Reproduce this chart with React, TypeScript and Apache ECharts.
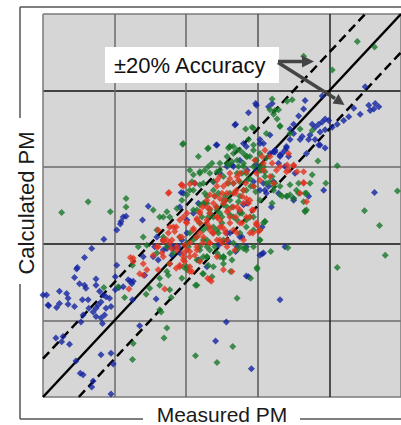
import React, { useEffect, useRef } from "react";
import * as echarts from "echarts";

// Measured (x) vs Calculated (y) PM, in grid units (5 divisions each axis)
const blueSeries: number[][] = [
[4.69,3.79],[4.64,3.83],[4.62,3.76],[4.55,3.81],[4.50,4.05],[4.57,3.74],[4.43,3.69],[4.34,3.77],[4.27,3.66],[4.20,3.61],[4.11,3.56],[4.04,3.52],[3.99,3.61],[3.94,3.63],[3.90,3.59],[3.85,3.56],[3.80,3.52],[3.76,3.56],[3.90,3.93],[3.66,3.87],[3.64,3.76],[3.57,3.67],[3.50,3.56],[3.45,3.50],[3.20,3.83],[3.15,3.79],[2.97,3.83],[2.87,3.71],[2.69,3.56],
[3.73,3.42],[3.59,3.36],[3.87,3.29],[3.94,3.49],[3.45,3.36],[3.38,3.22],[3.94,3.25],[3.80,3.36],
[3.50,3.44],[3.62,3.40],[3.71,3.36],[3.87,3.46],[3.85,3.29],[3.17,3.42],[3.08,3.31],[3.24,3.20],[3.34,3.18],[3.43,3.14],[2.80,3.31],[3.29,3.05],[3.52,2.92],[3.92,2.70],[3.71,2.62],[3.50,2.59],[3.10,2.70],[3.15,2.75],[2.97,3.03],[2.85,2.96],[4.63,2.67],[3.06,2.22],[2.78,2.09],[2.59,2.03],[2.71,1.96],[2.69,1.90],[3.06,1.87],
[2.84,1.58],[3.31,1.27],[2.56,0.98],[2.91,0.37],
[0.47,1.67],[0.44,1.56],[0.23,1.38],[0.05,1.33],[0.08,1.19],[0.19,1.17],[0.23,1.22],[0.33,1.35],[0.35,1.29],[0.35,1.21],[0.44,1.18],[0.51,1.48],[0.58,1.46],[0.60,1.42],[0.55,1.27],[0.63,1.27],[0.74,1.54],[0.74,1.46],[0.79,1.38],[0.84,1.33],[0.88,1.31],[0.93,1.29],[0.81,1.24],[0.77,1.20],[0.74,1.16],[0.70,1.11],[0.74,1.05],[0.81,1.03],[0.86,1.07],[0.88,1.16],[0.95,1.18],[0.56,1.07],[0.53,0.98],[0.83,0.96],[0.64,1.16],[0.18,0.77],[0.28,0.79],[0.37,0.69],[0.46,0.47],[0.81,0.55],[0.95,0.57],[0.98,0.43],[0.56,0.29],[0.70,0.21],[0.95,0.04],[1.06,1.43],[1.12,1.44],[1.22,1.51],[1.25,1.27],[1.35,0.93],[1.19,1.53],[1.26,1.51],[1.58,1.28],[2.41,0.73],[0.68,0.13],[0.26,0.72],[0.00,1.33],[0.07,1.20],[0.52,0.31],
[2.42,3.29],[1.47,2.49],[1.39,2.31],[1.12,2.35],[1.16,2.36],[1.09,2.29],[1.08,2.26],[1.03,2.18],[0.85,2.06],[0.68,1.94],[0.58,1.82],[0.48,1.69],[1.93,2.67],[2.12,2.79],
[2.68,3.55],[2.98,3.81],[1.03,1.72],[1.01,1.57],[1.24,1.48],[1.42,1.59],[1.54,1.83],[1.61,1.79],[1.68,1.92],[1.75,1.98],[1.82,1.94],[1.89,1.96],[1.94,2.05],[1.80,1.85],[1.56,1.96],[2.01,2.31],[2.01,2.14],[2.10,2.40],[1.91,2.48],[2.17,2.53],[1.96,2.66],[1.59,2.09],[1.40,1.83],[1.01,1.40],[2.17,1.79],[2.29,1.70],[2.45,1.98],[2.61,2.14],[2.87,1.57],[3.08,1.88],[3.19,2.48],[3.29,2.66],[3.50,2.57],
[3.31,3.14],[3.22,3.20],[3.40,3.25],[3.38,3.01],[2.98,2.96],[2.75,3.09],[2.66,3.01],[2.47,2.92],[2.38,2.81],[2.94,2.81],[3.08,2.79],[3.12,2.66],[2.85,2.53],[2.84,3.27],[3.03,3.36],
[3.17,3.18],[3.24,3.22],[3.31,3.16],[3.40,3.27],[3.03,3.31],[2.43,3.29],[2.57,3.01],[2.64,3.03],[2.75,2.42],[2.80,2.51],[3.03,2.70],[3.22,2.81],[1.82,1.96],[1.73,1.94],[1.68,2.05],[1.91,1.88],[2.57,2.14],[2.75,2.09],[2.84,1.96],[3.03,1.85],[3.68,3.18],[3.38,1.96]
];

const greenSeries: number[][] = [
[4.39,4.64],[4.63,4.57],[3.64,4.45],[4.04,4.27],[3.20,3.89],[3.24,3.74],[3.22,3.69],[3.48,3.88],[3.41,3.86],[3.27,3.63],[3.31,3.54],[2.92,3.52],[2.83,3.50],[3.76,3.48],[3.59,3.50],
[3.17,3.75],[3.29,3.75],[2.94,3.51],[3.12,3.44],[3.31,3.53],[3.45,3.44],[1.95,3.30],[2.30,3.24],[2.61,3.27],[2.71,3.22],[2.80,3.18],[2.89,3.14],[3.03,3.18],
[2.59,3.25],[2.66,3.27],[2.87,3.36],[2.94,3.29],[2.85,3.14],[2.97,3.09],[3.03,3.01],[3.10,2.94],[3.20,2.88],[3.24,2.79],[3.31,2.75],[3.34,2.62],[3.41,2.62],[3.45,2.64],[3.20,2.53],[3.57,2.66],[3.66,2.66],[3.45,2.77],[3.57,2.79],[3.73,2.79],[3.76,2.90],[3.95,2.79],[3.84,3.08],[3.64,2.55],[3.66,2.43],[4.11,3.02],[4.95,2.69],[4.49,2.43],[4.70,2.24],[4.78,1.85],[4.11,1.69],[3.42,1.95],[3.18,1.90],[3.10,2.29],[2.83,1.95],[2.99,1.69],[2.64,3.07],[2.73,3.01],[2.78,2.92],[2.85,2.83],[2.90,2.75],[2.97,2.68],[2.59,2.79],[2.55,2.62],[2.64,2.48],[2.73,2.55],[2.78,2.40],[2.50,2.35],[2.52,1.83],
[2.62,1.64],[2.99,1.67],[2.90,1.55],[2.71,1.29],[2.65,0.66],
[0.85,1.43],[1.14,1.30],[1.25,1.72],[1.49,1.42],[1.44,1.34],[1.63,1.46],[1.75,1.59],[1.77,1.40],[1.79,1.30],[1.65,1.11],[1.69,0.77],[1.25,0.49],[2.13,0.54],[2.43,0.45],[2.13,1.46],[2.23,1.61],
[1.26,0.70],[0.26,2.41],[0.63,2.55],[0.94,2.42],[1.16,2.59],[1.16,2.48],[1.63,1.14],[1.05,1.44],[1.63,1.55],[1.73,1.64],[1.94,1.55],[2.15,1.46],[2.36,1.57],[2.47,1.83],[2.61,1.88],[2.71,1.92],[2.80,1.94],[2.38,1.70],[2.52,1.74],[2.40,1.96],[2.29,1.83],[2.19,1.96],[1.40,2.09],[1.33,1.96],[1.45,1.98],[1.59,2.18],[1.77,2.35],[1.87,2.46],[1.94,2.57],[2.01,2.64],[2.08,2.81],[2.19,2.92],[2.31,3.01],[2.43,2.94],[2.47,3.05],[2.57,3.14],[2.66,3.18],[2.10,2.70],[2.19,2.77],[2.26,2.66],[2.29,2.53],[2.33,2.44],[2.38,2.35],[2.43,2.48],[2.47,2.40],[2.52,2.57],[2.57,2.48],[2.61,2.66],[2.66,2.79],[2.71,2.92],[2.75,2.81],[2.80,2.70],[2.84,2.92],[2.94,3.01],[3.03,2.96],[3.10,2.88],[3.17,2.81],[3.22,2.75],[2.38,2.22],[2.45,2.14],[2.52,2.05],[2.24,2.18],[2.29,2.05],[2.15,2.09],[2.66,2.35],[2.75,2.40],[2.84,2.31],[2.94,2.35],[3.03,2.18],[3.08,2.27],[3.66,2.42],[2.75,2.14],[2.66,2.01],[2.01,1.70],[2.03,1.96],[2.22,2.35],[2.15,2.44],[1.73,0.90],[2.19,1.79],
[2.17,3.14],[2.26,2.96],[2.36,3.05],[2.59,3.03],[2.40,2.62],[2.45,2.66],[2.26,2.53],[2.31,2.35],[2.19,2.51],[2.43,2.18],[2.50,2.27],[2.29,1.96],[2.24,1.83],[2.15,1.79],[2.31,1.72],[2.52,1.81],[2.64,1.79],[2.75,1.96],[2.01,2.01],[1.91,2.09],[1.73,1.96],[1.59,1.88],[1.77,1.74],[1.96,1.70],[1.68,2.35],[1.54,2.44],[2.10,2.44],[2.05,2.70],[2.80,3.05],[3.05,2.96],[2.94,2.75],[2.89,2.35],[3.03,2.05],[2.94,1.96],
[1.96,3.31],[2.31,3.25],[2.61,3.27],[2.75,3.22],[2.71,3.09],[2.84,3.14],[2.94,3.22],[2.98,3.09],[3.12,3.12],[3.08,3.01],[2.80,3.01],[2.57,3.05],[2.47,2.96],[2.33,2.92],[2.19,2.94],[2.05,2.96],[2.10,2.90],[2.24,2.79],[2.38,2.81],[2.52,2.88],[2.89,2.85],[3.12,2.79],[3.22,2.70],[3.31,2.64],[3.40,2.62],[3.50,2.59],[3.54,2.70],[3.68,2.66],[3.68,2.44],[3.03,2.57],[2.84,2.70],[2.75,2.62],[2.61,2.57],[2.52,2.51],[2.43,2.44],[2.33,2.40],[2.24,2.53],[2.29,2.62],[2.38,2.70],[2.19,2.27],[2.29,2.22],[2.38,2.14],[2.24,2.05],[2.33,1.92],[2.43,1.88],[2.52,1.83],[2.29,1.83],[2.19,1.92],[2.10,2.05],[2.05,2.14],[2.84,1.92],[3.03,2.05],[3.10,2.29],[2.94,2.18],[2.71,2.31],[2.61,2.38],[2.84,2.22],[2.24,1.61],[2.01,1.66],[1.82,1.88],[1.68,2.09],[1.63,2.35],[1.73,2.42]
];

const redSeries: number[][] = [
[1.76,2.67],[1.93,2.77],[2.05,2.78],[1.96,2.35],[2.00,2.28],[1.86,2.22],[1.84,2.16],[1.91,2.09],[1.68,2.03],[1.61,1.96],[1.79,1.94],[1.54,1.85],[1.22,1.82],[1.26,1.77],[1.98,1.98],[2.05,1.90],[2.12,1.85],[1.98,1.77],[2.19,1.77],[2.33,2.22],[2.37,2.14],[2.33,2.40],[2.23,2.48],[2.42,2.48],[2.47,2.31],[2.40,2.62],[2.19,2.27],[2.14,2.09],[2.23,2.01],
[1.40,1.59],[1.20,1.41],[1.61,1.66],[1.70,1.41],[1.86,1.68],[1.91,1.72],[2.05,1.64],[2.30,1.55],[2.35,1.51],[1.35,1.61],
[2.57,2.79],[2.50,2.66],[2.55,2.57],[2.59,2.44],[2.50,2.22],[2.55,2.14],[2.50,2.01],[2.99,2.25],[2.93,2.14],[3.01,2.16],[3.06,3.14],[3.17,3.14],[3.20,3.05],[3.31,3.01],[3.41,3.03],[3.50,3.02],[3.43,2.96],[3.64,2.80],[3.55,2.94],[3.43,3.18],[3.10,3.22],[2.83,2.79],[2.73,2.83],[2.69,2.66],[2.78,2.62],[2.87,2.53],[2.92,2.44],[2.69,2.35],[2.78,2.27],
[1.94,2.77],[2.29,2.57],[2.19,2.40],[2.43,2.75],[2.66,2.66],[2.52,2.53],[2.71,2.48],[2.61,2.35],[2.75,2.27],[2.54,2.18],[2.38,2.14],[2.24,2.09],[2.10,2.18],[2.05,2.01],[1.87,1.92],[1.68,1.83],[1.96,1.79],[2.15,1.92],[2.33,2.01],[2.47,2.05],[2.66,2.18],[2.89,2.14],[2.98,2.27],[2.84,2.35],[2.89,2.57],[2.80,2.70],[2.71,2.88],[2.61,2.92],[2.47,2.88],[2.33,2.46],[2.43,2.35],[2.29,2.27],[2.15,2.31],[2.01,2.40],[1.77,2.22],[1.59,1.96],[1.77,2.01],[1.94,2.09],[2.57,1.96],[2.43,1.83],[2.05,1.70],[2.68,1.92],
[2.33,1.53],[2.08,1.64],[2.05,1.83],[1.96,1.88],[1.80,2.05],[1.75,2.14],[1.68,2.05],[1.61,2.18],[1.96,2.75],[2.96,3.09],[3.08,3.05],[3.50,3.03],[1.40,1.74],[1.26,1.81],[1.45,1.66],[1.66,1.88],
[2.12,2.79],[1.75,2.66],[2.61,2.85],[2.66,2.79],[2.75,2.92],[2.84,2.94],[2.98,2.92],[3.08,2.96],[3.03,2.83],[2.94,2.75],[2.70,2.70],[2.57,2.66],[2.47,2.59],[2.38,2.53],[2.29,2.48],[2.19,2.42],[2.15,2.33],[2.29,2.31],[2.43,2.35],[2.57,2.42],[2.66,2.48],[2.80,2.53],[2.84,2.59],[2.75,2.44],[2.61,2.27],[2.47,2.22],[2.33,2.18],[2.19,2.14],[2.10,2.20],[2.01,2.27],[1.91,2.31],[1.82,2.22],[1.73,2.05],[1.87,1.96],[2.01,1.92],[2.15,1.96],[1.96,1.83],[1.77,1.74],[1.91,1.70],[2.52,1.66],[2.64,1.64],[2.98,2.25],[3.03,2.18],[3.17,2.88],[3.26,2.96],[3.40,2.94],[3.64,2.94],[3.64,2.79],[3.59,2.66],[3.68,2.55],[3.22,2.79],[2.43,2.83],[2.52,2.75],[2.33,2.64],[2.89,2.35],[2.94,2.44],[2.71,2.14],[2.80,2.05],[2.57,2.05],[2.43,2.05],[2.33,2.01]
];

const identityLine: number[][] = [[0, 0], [5, 5]];
const upperBand: number[][] = [[0, 0.5], [4.5, 5]];
const lowerBand: number[][] = [[0.5, 0], [5, 4.5]];

const xLabel = "Measured PM";
const yLabel = "Calculated PM";
const annotation = "±20% Accuracy";

const FONT = "'Liberation Sans', Arial, sans-serif";

export default function App() {
  const ref = useRef<HTMLDivElement>(null);
  useEffect(() => {
    if (!ref.current) return;
    const chart = echarts.init(ref.current, undefined, { renderer: "svg" });
    const scatterBase = {
      type: "scatter" as const,
      symbol: "diamond",
      symbolSize: 7,
      z: 3,
    };
    const lineBase = {
      type: "line" as const,
      showSymbol: false,
      symbol: "none",
      z: 2,
      silent: true,
    };
    const frame = "#555";
    const arrow = "#444";
    chart.setOption({
      animation: false,
      backgroundColor: "#ffffff",
      grid: {
        left: 43,
        top: 14,
        right: 0,
        bottom: 28,
        show: true,
        backgroundColor: "#d6d6d6",
        borderWidth: 0,
      },
      xAxis: {
        type: "value",
        min: 0,
        max: 5,
        interval: 1,
        axisLine: { show: false },
        axisTick: { show: false },
        axisLabel: { show: false },
        splitLine: { show: true, lineStyle: { color: ["#7a7a7a", "#6a6a6a", "#666666", "#555555", "#222222", "#7a7a7a"], width: 1.5 } },
      },
      yAxis: {
        type: "value",
        min: 0,
        max: 5,
        interval: 1,
        axisLine: { show: false },
        axisTick: { show: false },
        axisLabel: { show: false },
        splitLine: { show: true, lineStyle: { color: ["#7a7a7a", "#6a6a6a", "#111111", "#6a6a6a", "#111111", "#7a7a7a"], width: 1.5 } },
      },
      series: [
        { ...lineBase, data: identityLine, lineStyle: { color: "#000", width: 2.5 } },
        { ...lineBase, data: upperBand, lineStyle: { color: "#000", width: 2.5, type: [9, 5] } },
        { ...lineBase, data: lowerBand, lineStyle: { color: "#000", width: 2.5, type: [9, 5] } },
        { ...scatterBase, name: "blue", data: blueSeries, itemStyle: { color: "#1424a0" } },
        { ...scatterBase, name: "green", data: greenSeries, itemStyle: { color: "#18782a" } },
        { ...scatterBase, name: "red", data: redSeries, itemStyle: { color: "#e4321e" } },
      ],
      graphic: [
        { type: "line", shape: { x1: 20, y1: 7, x2: 401, y2: 7 }, style: { stroke: frame, lineWidth: 1.5 } },
        { type: "line", shape: { x1: 20, y1: 7, x2: 20, y2: 118 }, style: { stroke: frame, lineWidth: 1.5 } },
        { type: "line", shape: { x1: 20, y1: 284, x2: 20, y2: 419 }, style: { stroke: frame, lineWidth: 1.5 } },
        { type: "line", shape: { x1: 20, y1: 419, x2: 143, y2: 419 }, style: { stroke: frame, lineWidth: 1.5 } },
        { type: "line", shape: { x1: 300, y1: 419, x2: 401, y2: 419 }, style: { stroke: frame, lineWidth: 1.5 } },
        {
          type: "text",
          x: 26,
          y: 203,
          rotation: Math.PI / 2,
          style: { text: yLabel, font: `22px ${FONT}`, fill: "#1a1a1a", align: "center", verticalAlign: "middle" },
        },
        {
          type: "text",
          x: 222,
          y: 414,
          style: { text: xLabel, font: `21px ${FONT}`, fill: "#1a1a1a", align: "center", verticalAlign: "middle" },
        },
        {
          type: "rect",
          z: 10,
          shape: { x: 105, y: 47, width: 174, height: 36 },
          style: { fill: "#ffffff" },
        },
        {
          type: "text",
          z: 11,
          x: 114,
          y: 65,
          style: { text: annotation, font: `22px ${FONT}`, fill: "#111", align: "left", verticalAlign: "middle" },
        },
        { type: "line", z: 11, shape: { x1: 278, y1: 61.5, x2: 303, y2: 61.5 }, style: { stroke: arrow, lineWidth: 3.5 } },
        { type: "polygon", z: 11, shape: { points: [[314, 61.5], [302, 55.5], [302, 67.5]] }, style: { fill: arrow } },
        { type: "line", z: 11, shape: { x1: 278, y1: 62.5, x2: 335, y2: 98.5 }, style: { stroke: arrow, lineWidth: 3.5 } },
        { type: "polygon", z: 11, shape: { points: [[344.5, 105], [332.5, 103.5], [338.5, 94]] }, style: { fill: arrow } },
      ],
    });
    return () => chart.dispose();
  }, []);
  return (
    <div
      ref={ref}
      style={{ position: "absolute", left: 0, top: 0, width: 401, height: 425, background: "#fff" }}
    />
  );
}
